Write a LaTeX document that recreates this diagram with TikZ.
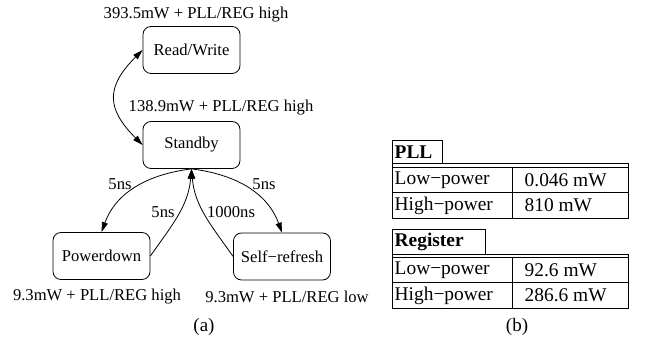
\documentclass[tikz,border=0pt]{standalone}
\usepackage{fontspec}
\setmainfont{Liberation Serif}
\usetikzlibrary{arrows.meta}
\begin{document}
\begin{tikzpicture}[x=1pt,y=1pt,
  state/.style={draw,line width=0.8pt,rounded corners=8pt,minimum width=97pt,minimum height=47pt,inner sep=0pt,font=\fontsize{16.6}{18}\selectfont},
  lbl/.style={inner sep=0pt,font=\fontsize{16.6}{18}\selectfont},
  cell/.style={inner sep=0pt,anchor=west,font=\fontsize{19.4}{21}\selectfont},
  hcell/.style={inner sep=0pt,anchor=west,font=\fontsize{19.4}{21}\selectfont\bfseries},
  captxt/.style={inner sep=0pt,font=\fontsize{19}{21}\selectfont},
  tline/.style={line width=0.8pt},
  conn/.style={line width=0.8pt,-{Triangle[length=10pt,width=6pt]}},
  bconn/.style={line width=0.8pt,{Triangle[length=10pt,width=6pt]}-{Triangle[length=10pt,width=6pt]}}]
\useasboundingbox (0,0) rectangle (645,-344);
% states
\node[state] (rw) at (191.5,-50) {Read/Write};
\node[state] (sb) at (191.5,-145) {Standby};
\node[state] (pd) at (101.5,-256) {Powerdown};
\node[state] (sr) at (282,-256.5) {Self\char"2212 refresh};
% power labels
\node[lbl] (lrw) at (196,-15) {393.5mW + PLL/REG high};
\node[lbl] (lsb) at (221,-108) {138.9mW + PLL/REG high};
\node[lbl] (lpd) at (97,-297) {9.3mW + PLL/REG high};
\node[lbl] (lsr) at (287,-297) {9.3mW + PLL/REG low};
% connectors
\draw[bconn] (rw.west) to[out=225,in=135,looseness=1.4] (sb.west);
\draw[conn] (sb.south) to[out=187,in=70] (pd.north);
\draw[conn] (sb.south) to[out=-7,in=110] (sr.north);
\draw[conn] (pd.east) to[out=55,in=-95] (sb.south);
\draw[conn] (sr.west) to[out=125,in=-85] (sb.south);
% edge labels
\node[lbl] (e1) at (120,-184) {5ns};
\node[lbl] (e2) at (163,-212) {5ns};
\node[lbl] (e3) at (231,-212) {1000ns};
\node[lbl] (e4) at (264,-184) {5ns};
\node[captxt] (ca) at (204,-327) {(a)};
% PLL table
\draw[tline] (392.3,-163.3) rectangle (442.3,-140);
\draw[tline] (392.3,-163.3) rectangle (628.3,-218.3);
\draw[tline] (392.3,-167.3) -- (628.3,-167.3);
\draw[tline] (392.3,-192.3) -- (628.3,-192.3);
\draw[tline] (512.7,-167.3) -- (512.7,-218.3);
\node[hcell] (ph) at (394.5,-152) {PLL};
\node[cell] (pl) at (394.5,-180) {Low\char"2212 power};
\node[cell] (pll) at (524.5,-180) {0.046 mW};
\node[cell] (phh) at (394.5,-205.5) {High\char"2212 power};
\node[cell] (phv) at (524.5,-205.5) {810 mW};
% Register table
\draw[tline] (392.3,-254.3) rectangle (485,-229.3);
\draw[tline] (392.3,-254.3) rectangle (628.3,-308.7);
\draw[tline] (392.3,-257.7) -- (628.3,-257.7);
\draw[tline] (392.3,-282.3) -- (628.3,-282.3);
\draw[tline] (512.7,-257.7) -- (512.7,-308.7);
\node[hcell] (rh) at (394.5,-242) {Register};
\node[cell] (rl) at (394.5,-270) {Low\char"2212 power};
\node[cell] (rlv) at (524.5,-270) {92.6 mW};
\node[cell] (rhh) at (394.5,-295.5) {High\char"2212 power};
\node[cell] (rhv) at (524.5,-295.5) {286.6 mW};
\node[captxt] (cb) at (517,-327) {(b)};
\end{tikzpicture}
\end{document}
